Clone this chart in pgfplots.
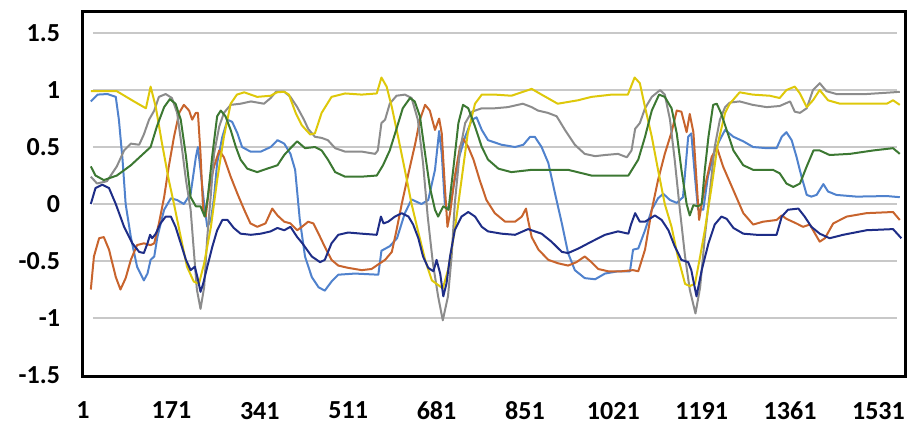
\documentclass[border=0pt]{standalone}
\usepackage{fontspec}
\setmainfont{Carlito}
\usepackage{pgfplots}
\pgfplotsset{compat=1.18}
\definecolor{cyel}{RGB}{222,200,10}
\definecolor{cgry}{RGB}{140,140,140}
\definecolor{cgrn}{RGB}{60,120,50}
\definecolor{cblu}{RGB}{80,130,205}
\definecolor{cora}{RGB}{200,100,45}
\definecolor{cnav}{RGB}{30,45,135}
\definecolor{cgrid}{RGB}{200,200,200}
\begin{document}
\begin{tikzpicture}
\path[use as bounding box] (-82.5pt,-51.5pt) rectangle (830.5pt,376.5pt);
\begin{axis}[
  at={(0pt,0pt)}, anchor=south west,
  scale only axis, width=823pt, height=365pt,
  xmin=0, xmax=1583, ymin=-1.513, ymax=1.689,
  axis line style={line width=2.8pt, black},
  major tick length=0pt,
  xtick={1,171,341,511,681,851,1021,1191,1361,1531},
  xticklabels={1,171,341,511,681,851,1021,1191,1361,1531},
  ytick={-1.5,-1,-0.5,0,0.5,1,1.5},
  yticklabels={-1.5,-1,-0.5,0,0.5,1,1.5},
  tick label style={font=\bfseries\fontsize{26}{30}\selectfont},
  xticklabel style={yshift=-22pt},
  yticklabel style={xshift=-19pt},
  every axis plot/.append style={line width=2pt, line join=round, mark=none},
]
% gridlines
\addplot[cgrid, line width=1.4pt, forget plot] coordinates {(20,-1)(1566,-1)};
\addplot[cgrid, line width=1.4pt, forget plot] coordinates {(20,-0.5)(1566,-0.5)};
\addplot[cgrid, line width=1.4pt, forget plot] coordinates {(20,0)(1566,0)};
\addplot[cgrid, line width=1.4pt, forget plot] coordinates {(20,0.5)(1566,0.5)};
\addplot[cgrid, line width=1.4pt, forget plot] coordinates {(20,1)(1566,1)};
\addplot[cgrid, line width=1.4pt, forget plot] coordinates {(20,1.5)(1566,1.5)};
% light blue
\addplot[cblu] coordinates {
(16,0.90)(29,0.96)(48,0.965)(64,0.94)(70,0.74)(77,0.39)(83,0.0)(93,-0.29)(105,-0.55)(118,-0.67)
(125,-0.61)(131,-0.49)(138,-0.46)(144,-0.29)(157,-0.05)(170,0.05)(182,0.035)(195,0.0)(208,0.09)
(218,0.41)(222,0.50)(227,0.30)(234,0.0)(240,-0.20)(247,-0.14)(253,0.06)(259,0.36)(269,0.59)
(279,0.74)(288,0.72)(298,0.62)(307,0.50)(323,0.46)(343,0.46)(362,0.50)(375,0.56)(388,0.53)
(400,0.44)(409,0.30)(418,-0.14)(428,-0.46)(441,-0.64)(454,-0.73)(466,-0.76)(479,-0.68)(492,-0.62)
(524,-0.61)(569,-0.62)(575,-0.41)(591,-0.37)(605,-0.30)(620,-0.08)(633,0.04)(652,0.0)(665,0.035)
(678,0.30)(686,0.64)(691,0.44)(697,0.0)(704,-0.05)(710,0.06)(723,0.39)(736,0.59)(749,0.74)
(758,0.76)(768,0.65)(780,0.56)(806,0.52)(832,0.50)(848,0.52)(861,0.59)(870,0.59)(883,0.50)
(896,0.36)(909,0.09)(922,-0.17)(934,-0.43)(947,-0.58)(966,-0.65)(986,-0.66)(1005,-0.61)(1030,-0.59)
(1053,-0.59)(1059,-0.40)(1069,-0.39)(1082,-0.23)(1095,-0.05)(1107,0.05)(1117,0.09)(1130,0.035)
(1143,0.01)(1155,0.06)(1165,0.59)(1171,0.62)(1178,0.24)(1184,-0.05)(1194,-0.05)(1203,0.24)
(1216,0.47)(1229,0.59)(1236,0.65)(1252,0.59)(1271,0.55)(1290,0.50)(1316,0.49)(1335,0.49)
(1345,0.59)(1354,0.63)(1364,0.56)(1373,0.42)(1383,0.24)(1393,0.08)(1402,0.065)(1412,0.08)
(1425,0.175)(1434,0.11)(1450,0.08)(1489,0.065)(1547,0.07)(1572,0.06)};
% orange
\addplot[cora] coordinates {
(16,-0.75)(22,-0.46)(32,-0.30)(41,-0.29)(51,-0.40)(64,-0.64)(73,-0.75)(83,-0.65)(93,-0.49)
(105,-0.36)(118,-0.345)(131,-0.36)(138,-0.345)(147,-0.17)(157,0.06)(166,0.33)(176,0.59)(186,0.80)
(195,0.87)(205,0.82)(211,0.74)(218,0.80)(222,0.80)(227,0.44)(232,-0.05)(237,-0.11)(243,0.12)
(253,0.33)(263,0.47)(272,0.41)(285,0.24)(298,0.09)(311,-0.05)(323,-0.17)(336,-0.20)(352,-0.17)
(365,-0.04)(375,-0.10)(388,-0.155)(400,-0.17)(413,-0.23)(422,-0.20)(434,-0.155)(444,-0.17)
(454,-0.26)(466,-0.375)(479,-0.49)(492,-0.54)(511,-0.56)(537,-0.58)(556,-0.57)(572,-0.52)
(582,-0.49)(595,-0.42)(604,-0.23)(614,0.0)(627,0.27)(640,0.53)(649,0.74)(659,0.87)(668,0.82)
(678,0.65)(686,0.75)(691,0.62)(697,0.15)(702,-0.20)(707,-0.08)(716,0.24)(726,0.50)(732,0.575)
(742,0.50)(752,0.39)(764,0.21)(777,0.035)(793,-0.08)(813,-0.155)(832,-0.155)(845,-0.11)
(853,-0.04)(857,-0.14)(864,-0.29)(877,-0.40)(896,-0.49)(915,-0.52)(934,-0.54)(950,-0.51)
(966,-0.46)(979,-0.51)(992,-0.57)(1011,-0.59)(1037,-0.59)(1059,-0.58)(1069,-0.59)(1082,-0.40)
(1095,-0.05)(1107,0.21)(1120,0.44)(1133,0.63)(1143,0.82)(1152,0.81)(1162,0.63)(1168,0.79)
(1175,0.63)(1181,0.21)(1186,-0.14)(1191,0.0)(1197,0.15)(1210,0.41)(1220,0.50)(1232,0.33)
(1252,0.12)(1271,-0.08)(1290,-0.18)(1309,-0.155)(1335,-0.14)(1345,-0.10)(1354,-0.13)(1373,-0.17)
(1386,-0.20)(1399,-0.18)(1409,-0.26)(1418,-0.33)(1428,-0.30)(1444,-0.17)(1470,-0.11)(1508,-0.08)
(1559,-0.07)(1572,-0.14)};
% gray
\addplot[cgry] coordinates {
(16,0.24)(28,0.18)(47,0.20)(66,0.33)(80,0.47)(93,0.53)(109,0.52)(118,0.61)(128,0.74)(138,0.82)
(147,0.94)(160,0.965)(172,0.93)(182,0.80)(191,0.50)(199,0.21)(208,-0.05)(215,-0.46)(220,-0.75)
(227,-0.92)(234,-0.73)(240,-0.29)(247,0.09)(253,0.44)(263,0.68)(272,0.80)(285,0.87)(304,0.88)
(324,0.90)(349,0.88)(362,0.93)(372,0.985)(388,0.985)(400,0.94)(413,0.85)(426,0.74)(434,0.66)
(447,0.59)(460,0.58)(472,0.56)(486,0.49)(505,0.46)(537,0.46)(563,0.44)(568,0.47)(575,0.71)
(582,0.74)(591,0.88)(604,0.95)(620,0.96)(633,0.93)(645,0.74)(655,0.36)(664,-0.11)(674,-0.52)
(684,-0.81)(693,-1.02)(703,-0.81)(710,-0.46)(716,0.0)(726,0.47)(736,0.71)(749,0.81)(768,0.84)
(793,0.84)(818,0.85)(847,0.88)(864,0.85)(876,0.82)(895,0.80)(912,0.77)(928,0.65)(947,0.52)
(966,0.44)(986,0.42)(1005,0.43)(1030,0.44)(1047,0.41)(1056,0.47)(1063,0.66)(1072,0.71)(1082,0.84)
(1095,0.94)(1111,1.0)(1120,0.96)(1130,0.74)(1139,0.39)(1149,-0.05)(1159,-0.46)(1168,-0.75)
(1179,-0.96)(1188,-0.73)(1197,-0.29)(1207,0.12)(1216,0.50)(1226,0.74)(1236,0.85)(1245,0.89)
(1264,0.90)(1289,0.87)(1316,0.85)(1341,0.86)(1361,0.90)(1370,0.81)(1380,0.80)(1393,0.84)
(1405,1.0)(1418,1.06)(1431,0.99)(1450,0.965)(1508,0.965)(1559,0.98)(1572,0.985)};
% yellow
\addplot[cyel] coordinates {
(16,0.99)(66,0.99)(99,0.90)(122,0.84)(131,1.03)(141,0.85)(153,0.53)(166,0.21)(176,0.0)(189,-0.29)
(201,-0.55)(214,-0.68)(224,-0.70)(234,-0.52)(247,-0.20)(259,0.21)(272,0.59)(285,0.88)(297,0.96)
(311,0.98)(336,0.94)(362,0.95)(374,0.98)(388,0.985)(397,0.96)(410,0.80)(422,0.69)(438,0.61)
(447,0.62)(460,0.80)(479,0.94)(505,0.97)(537,0.96)(566,0.97)(575,1.11)(585,1.03)(595,0.85)
(607,0.59)(620,0.30)(633,0.0)(645,-0.23)(659,-0.49)(672,-0.67)(684,-0.71)(693,-0.74)(703,-0.58)
(716,-0.23)(729,0.21)(741,0.62)(755,0.88)(768,0.96)(793,0.96)(825,0.95)(838,0.97)(864,1.01)
(883,0.96)(914,0.88)(953,0.91)(979,0.94)(1018,0.96)(1049,0.96)(1062,1.11)(1072,1.06)(1082,0.85)
(1095,0.59)(1107,0.30)(1120,0.0)(1133,-0.20)(1145,-0.46)(1159,-0.70)(1168,-0.72)(1178,-0.70)
(1188,-0.46)(1197,-0.23)(1210,0.15)(1222,0.53)(1236,0.80)(1245,0.88)(1264,0.98)(1289,0.96)
(1322,0.95)(1341,0.93)(1354,1.0)(1370,1.03)(1380,0.97)(1393,0.85)(1405,0.91)(1418,1.0)
(1434,0.91)(1457,0.88)(1508,0.88)(1547,0.88)(1559,0.91)(1572,0.87)};
% navy
\addplot[cnav] coordinates {
(16,0.0)(25,0.14)(38,0.17)(51,0.14)(64,0.0)(80,-0.20)(96,-0.345)(109,-0.42)(118,-0.43)(125,-0.345)
(130,-0.27)(134,-0.30)(141,-0.26)(150,-0.17)(160,-0.11)(170,-0.11)(179,-0.20)(189,-0.345)
(199,-0.49)(208,-0.58)(216,-0.55)(221,-0.64)(227,-0.77)(232,-0.70)(240,-0.55)(250,-0.37)
(259,-0.23)(269,-0.14)(279,-0.14)(291,-0.21)(304,-0.26)(324,-0.27)(343,-0.26)(362,-0.24)
(375,-0.21)(388,-0.23)(400,-0.20)(413,-0.29)(423,-0.345)(441,-0.46)(457,-0.51)(466,-0.49)
(479,-0.345)(492,-0.27)(511,-0.25)(537,-0.26)(566,-0.27)(574,-0.11)(579,-0.17)(588,-0.155)
(601,-0.11)(614,-0.08)(627,-0.11)(636,-0.18)(646,-0.30)(655,-0.46)(665,-0.56)(675,-0.59)
(681,-0.49)(688,-0.61)(694,-0.81)(700,-0.70)(707,-0.46)(716,-0.23)(729,-0.11)(742,-0.07)
(755,-0.11)(768,-0.20)(780,-0.24)(806,-0.26)(832,-0.27)(857,-0.22)(883,-0.26)(902,-0.33)
(922,-0.42)(934,-0.43)(954,-0.39)(979,-0.33)(1005,-0.27)(1030,-0.24)(1050,-0.26)(1055,-0.18)
(1063,-0.08)(1072,-0.155)(1082,-0.155)(1101,-0.10)(1114,-0.14)(1127,-0.23)(1139,-0.37)
(1152,-0.49)(1165,-0.51)(1171,-0.58)(1181,-0.81)(1191,-0.58)(1204,-0.345)(1216,-0.18)
(1229,-0.11)(1239,-0.13)(1252,-0.21)(1271,-0.26)(1297,-0.27)(1335,-0.27)(1345,-0.11)(1357,-0.05)
(1377,-0.04)(1389,-0.11)(1402,-0.20)(1418,-0.26)(1437,-0.30)(1463,-0.27)(1508,-0.23)(1559,-0.22)
(1575,-0.30)};
% green
\addplot[cgrn] coordinates {
(16,0.33)(25,0.25)(41,0.21)(66,0.25)(93,0.34)(112,0.42)(131,0.50)(143,0.68)(157,0.85)(168,0.92)
(179,0.88)(189,0.74)(199,0.42)(208,0.06)(218,-0.02)(227,-0.02)(235,-0.11)(241,0.06)(250,0.44)
(259,0.77)(266,0.82)(275,0.77)(285,0.65)(295,0.50)(304,0.39)(317,0.31)(336,0.28)(355,0.31)
(375,0.34)(388,0.43)(400,0.49)(413,0.55)(428,0.49)(447,0.50)(460,0.47)(472,0.39)(486,0.28)
(505,0.24)(537,0.24)(566,0.25)(578,0.34)(591,0.47)(604,0.66)(616,0.84)(630,0.93)(639,0.90)
(649,0.77)(659,0.44)(668,0.15)(678,-0.05)(684,-0.11)(694,-0.02)(704,-0.05)(713,0.30)(723,0.71)
(732,0.87)(742,0.84)(755,0.68)(768,0.50)(780,0.39)(800,0.31)(825,0.28)(864,0.30)(909,0.30)
(934,0.30)(979,0.25)(1018,0.25)(1050,0.25)(1069,0.39)(1082,0.59)(1095,0.82)(1109,0.96)(1120,0.94)
(1133,0.84)(1143,0.62)(1152,0.30)(1162,0.0)(1168,-0.10)(1175,-0.01)(1184,-0.02)(1191,0.0)
(1197,0.30)(1204,0.59)(1213,0.87)(1220,0.88)(1228,0.80)(1239,0.65)(1252,0.47)(1271,0.34)
(1290,0.30)(1328,0.30)(1341,0.27)(1354,0.18)(1367,0.15)(1380,0.18)(1393,0.33)(1406,0.47)
(1418,0.47)(1437,0.43)(1476,0.44)(1521,0.47)(1559,0.49)(1572,0.44)};
\end{axis}
\end{tikzpicture}
\end{document}
